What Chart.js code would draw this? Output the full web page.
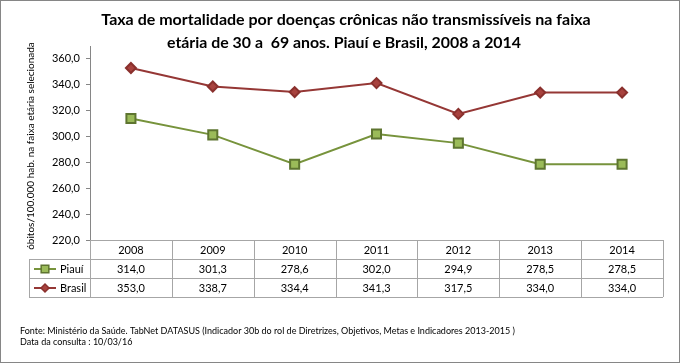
<!DOCTYPE html>
<html>
<head>
<meta charset="utf-8">
<script src="https://cdn.jsdelivr.net/npm/chart.js@4/dist/chart.umd.min.js"></script>
<style>
  html, body { margin: 0; padding: 0; background: #fff; }
  #wrap { width: 680px; height: 364px; }
</style>
</head>
<body>
<div id="wrap"><canvas id="chart" width="680" height="364"></canvas></div>
<script>
// dados
const years = ['2008', '2009', '2010', '2011', '2012', '2013', '2014'];
const piaui = [314.0, 301.3, 278.6, 302.0, 294.9, 278.5, 278.5];
const brasil = [353.0, 338.7, 334.4, 341.3, 317.5, 334.0, 334.0];
const yTicks = [220, 240, 260, 280, 300, 320, 340, 360];

const titleLines = [
    'Taxa de mortalidade por doenças crônicas não transmissíveis na faixa',
    'etária de 30 a  69 anos. Piauí e Brasil, 2008 a 2014'
];
const yTitle = 'óbitos/100.000 hab. na faixa etária selecionada';
const notes = [
    'Fonte: Ministério da Saúde. TabNet DATASUS (Indicador 30b do rol de Diretrizes, Objetivos, Metas e Indicadores 2013-2015 )',
    'Data da consulta : 10/03/16'
];

const FONT = 'Lato, "Open Sans", sans-serif';
const fmt = v => v.toFixed(1).replace('.', ',');

const series = [
    { name: 'Piauí', values: piaui, line: '#77933C', fill: '#9BBB59', border: '#5E7530', style: 'rect', radius: 6.4 },
    { name: 'Brasil', values: brasil, line: '#953735', fill: '#A8423E', border: '#8A302D', style: 'rectRot', radius: 5 }
];

// desenha titulo, tabela de dados, notas e moldura
const extras = {
    id: 'extras',
    beforeDraw(chart) {
        const ctx = chart.ctx;
        ctx.save();
        ctx.fillStyle = '#fff';
        ctx.fillRect(0, 0, chart.width, chart.height);
        ctx.restore();
    },
    afterDraw(chart) {
        const ctx = chart.ctx;
        const area = chart.chartArea;
        const xs = chart.scales.x;
        const left = area.left, right = area.right, top0 = area.bottom;
        const rowH = 19;
        const colW = (right - left) / years.length;
        const legLeft = 29;

        ctx.save();

        // titulo
        ctx.fillStyle = '#000';
        ctx.textAlign = 'center';
        ctx.textBaseline = 'middle';
        ctx.font = 'bold 16px ' + FONT;
        ctx.fillText(titleLines[0], 346, 20, 494);
        ctx.fillText(titleLines[1], 344, 43, 354);

        // titulo do eixo y
        ctx.save();
        ctx.translate(31, 146);
        ctx.rotate(-Math.PI / 2);
        ctx.font = '10px ' + FONT;
        ctx.fillText(yTitle, 0, 0, 214);
        ctx.restore();

        // grade da tabela
        ctx.strokeStyle = '#A6A6A6';
        ctx.lineWidth = 1;
        ctx.beginPath();
        for (let r = 1; r <= 3; r++) {
            const yy = Math.round(top0 + r * rowH) + 0.5;
            ctx.moveTo(legLeft, yy);
            ctx.lineTo(right, yy);
        }
        for (let i = 0; i <= years.length; i++) {
            const xx = Math.round(left + i * colW) + 0.5;
            ctx.moveTo(xx, top0);
            ctx.lineTo(xx, top0 + 3 * rowH);
        }
        ctx.moveTo(legLeft + 0.5, top0 + rowH);
        ctx.lineTo(legLeft + 0.5, top0 + 3 * rowH);
        ctx.stroke();

        // valores e legenda
        ctx.font = '11px ' + FONT;
        series.forEach((s, k) => {
            const cy = top0 + (k + 1.5) * rowH + 0.5;
            ctx.fillStyle = '#000';
            ctx.textAlign = 'center';
            s.values.forEach((v, i) => {
                ctx.fillText(fmt(v), xs.getPixelForValue(i), cy);
            });
            ctx.strokeStyle = s.line;
            ctx.lineWidth = 2;
            ctx.beginPath();
            ctx.moveTo(34, cy);
            ctx.lineTo(56, cy);
            ctx.stroke();
            ctx.fillStyle = s.fill;
            ctx.strokeStyle = s.border;
            ctx.lineWidth = 1.5;
            Chart.helpers.drawPoint(ctx, { pointStyle: s.style, radius: s.radius - 1, borderWidth: 1.5 }, 45, cy);
            ctx.fillStyle = '#000';
            ctx.textAlign = 'left';
            ctx.fillText(s.name, 60, cy);
        });

        // notas
        ctx.font = '9px ' + FONT;
        ctx.textAlign = 'left';
        ctx.fillText(notes[0], 20, 331, 505);
        ctx.fillText(notes[1], 20, 342.5);

        // moldura
        ctx.strokeStyle = '#868686';
        ctx.lineWidth = 1;
        ctx.strokeRect(0.5, 0.5, 679, 362);

        ctx.restore();
    }
};

new Chart(document.getElementById('chart'), {
    type: 'line',
    data: {
        labels: years,
        datasets: series.map(s => ({
            label: s.name,
            data: s.values,
            borderColor: s.line,
            borderWidth: 2,
            backgroundColor: s.fill,
            pointStyle: s.style,
            pointRadius: s.radius,
            pointBackgroundColor: s.fill,
            pointBorderColor: s.border,
            pointBorderWidth: 2,
            tension: 0
        }))
    },
    options: {
        responsive: false,
        animation: false,
        layout: { padding: { top: 46, right: 17, left: 0, bottom: 0 } },
        plugins: {
            legend: { display: false },
            title: { display: false },
            tooltip: { enabled: false }
        },
        scales: {
            x: {
                offset: true,
                grid: { display: false, drawTicks: false },
                border: { display: true, color: '#A6A6A6', width: 1 },
                ticks: { color: '#000', padding: 4, font: { family: FONT, size: 11 } },
                afterFit: s => { s.height = 124; }
            },
            y: {
                min: 220,
                max: 370,
                ticks: {
                    stepSize: 20,
                    color: '#000',
                    padding: 6,
                    font: { family: FONT, size: 11 },
                    callback: v => fmt(v)
                },
                afterBuildTicks: s => { s.ticks = yTicks.map(v => ({ value: v })); },
                grid: { display: true, drawOnChartArea: false, drawTicks: true, tickLength: 4, color: '#868686' },
                border: { display: true, color: '#868686', width: 1 },
                afterFit: s => { s.width = 90; }
            }
        }
    },
    plugins: [extras]
});
</script>
</body>
</html>
